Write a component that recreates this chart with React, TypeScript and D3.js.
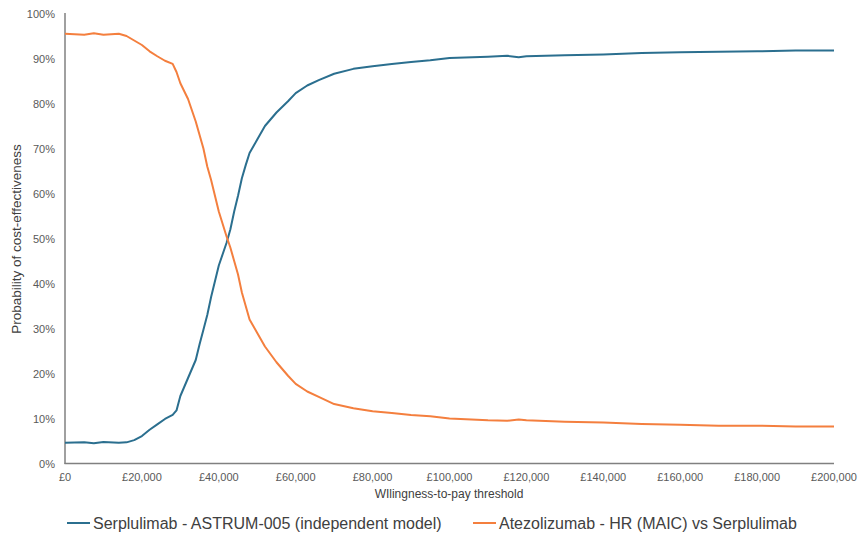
import React from "react";
import * as d3 from "d3";

const thresholds = [0, 5000, 7500, 10000, 14000, 16000, 18000, 20000, 22000, 24000, 26000, 28000, 29000, 30000, 32000, 34000, 35000, 36000, 37000, 38000, 40000, 42000, 43000, 44000, 45000, 46000, 47000, 48000, 50000, 52000, 55000, 58000, 60000, 63000, 66000, 70000, 75000, 80000, 85000, 90000, 95000, 100000, 110000, 115000, 118000, 120000, 130000, 140000, 150000, 160000, 170000, 180000, 190000, 200000];

const serplulimab = [0.046, 0.047, 0.045, 0.048, 0.046, 0.047, 0.052, 0.061, 0.075, 0.087, 0.099, 0.108, 0.118, 0.15, 0.19, 0.23, 0.265, 0.297, 0.33, 0.37, 0.44, 0.49, 0.52, 0.56, 0.595, 0.634, 0.663, 0.69, 0.72, 0.75, 0.78, 0.805, 0.823, 0.84, 0.852, 0.866, 0.877, 0.883, 0.888, 0.892, 0.896, 0.901, 0.904, 0.906, 0.903, 0.905, 0.907, 0.909, 0.912, 0.914, 0.915, 0.916, 0.918, 0.918];

const atezolizumab = [0.955, 0.953, 0.956, 0.953, 0.955, 0.95, 0.94, 0.93, 0.916, 0.905, 0.895, 0.888, 0.87, 0.845, 0.81, 0.76, 0.73, 0.70, 0.66, 0.63, 0.56, 0.505, 0.48, 0.45, 0.42, 0.38, 0.35, 0.32, 0.29, 0.26, 0.225, 0.195, 0.177, 0.16, 0.148, 0.132, 0.123, 0.116, 0.112, 0.108, 0.105, 0.1, 0.096, 0.095, 0.098, 0.096, 0.093, 0.091, 0.088, 0.086, 0.084, 0.084, 0.082, 0.082];

const xTicks = [0, 20000, 40000, 60000, 80000, 100000, 120000, 140000, 160000, 180000, 200000];
const yTicks = [0, 0.1, 0.2, 0.3, 0.4, 0.5, 0.6, 0.7, 0.8, 0.9, 1.0];

const seriesNames = ["Serplulimab - ASTRUM-005 (independent model)", "Atezolizumab - HR (MAIC) vs Serplulimab"];
const seriesColors = ["#2b6f8f", "#f47f3e"];

export default function App() {
  const x = d3.scaleLinear().domain([0, 200000]).range([65, 834]);
  const y = d3.scaleLinear().domain([0, 1]).range([463.5, 13.5]);
  const line = d3
    .line<[number, number]>()
    .x((d) => x(d[0]))
    .y((d) => y(d[1]));
  const series = [serplulimab, atezolizumab];
  const font = "'Liberation Sans', Arial, sans-serif";
  const fmtX = (v: number) => "£" + d3.format(",")(v);
  const fmtY = (v: number) => Math.round(v * 100) + "%";
  const legendX = [67, 473];

  return (
    <svg
      width={860}
      height={540}
      style={{ position: "absolute", left: 0, top: 0, background: "#fff" }}
      fontFamily={font}
    >
      {yTicks.map((t) => (
        <text key={t} x={55} y={y(t) + 4} textAnchor="end" fontSize={11} fill="#595959">
          {fmtY(t)}
        </text>
      ))}
      {xTicks.map((t) => (
        <text key={t} x={x(t)} y={481} textAnchor="middle" fontSize={11} fill="#595959">
          {fmtX(t)}
        </text>
      ))}
      <line x1={65} x2={65} y1={13} y2={464} stroke="#808080" strokeWidth={1.5} />
      <line x1={64.5} x2={834} y1={463.5} y2={463.5} stroke="#808080" strokeWidth={1.5} />
      {series.map((s, i) => (
        <path
          key={i}
          d={line(thresholds.map((t, j) => [t, s[j]] as [number, number])) || ""}
          fill="none"
          stroke={seriesColors[i]}
          strokeWidth={2}
          strokeLinejoin="round"
        />
      ))}
      <text x={449} y={498} textAnchor="middle" fontSize={12} fill="#404040">
        WIlingness-to-pay threshold
      </text>
      <text
        transform={`translate(21,239) rotate(-90)`}
        textAnchor="middle"
        fontSize={13.5}
        fill="#404040"
      >
        Probability of cost-effectiveness
      </text>
      {seriesNames.map((n, i) => (
        <g key={n}>
          <line x1={legendX[i]} x2={legendX[i] + 23} y1={523} y2={523} stroke={seriesColors[i]} strokeWidth={2} />
          <text x={legendX[i] + 26} y={528.5} fontSize={16} fill="#404040">
            {n}
          </text>
        </g>
      ))}
    </svg>
  );
}
